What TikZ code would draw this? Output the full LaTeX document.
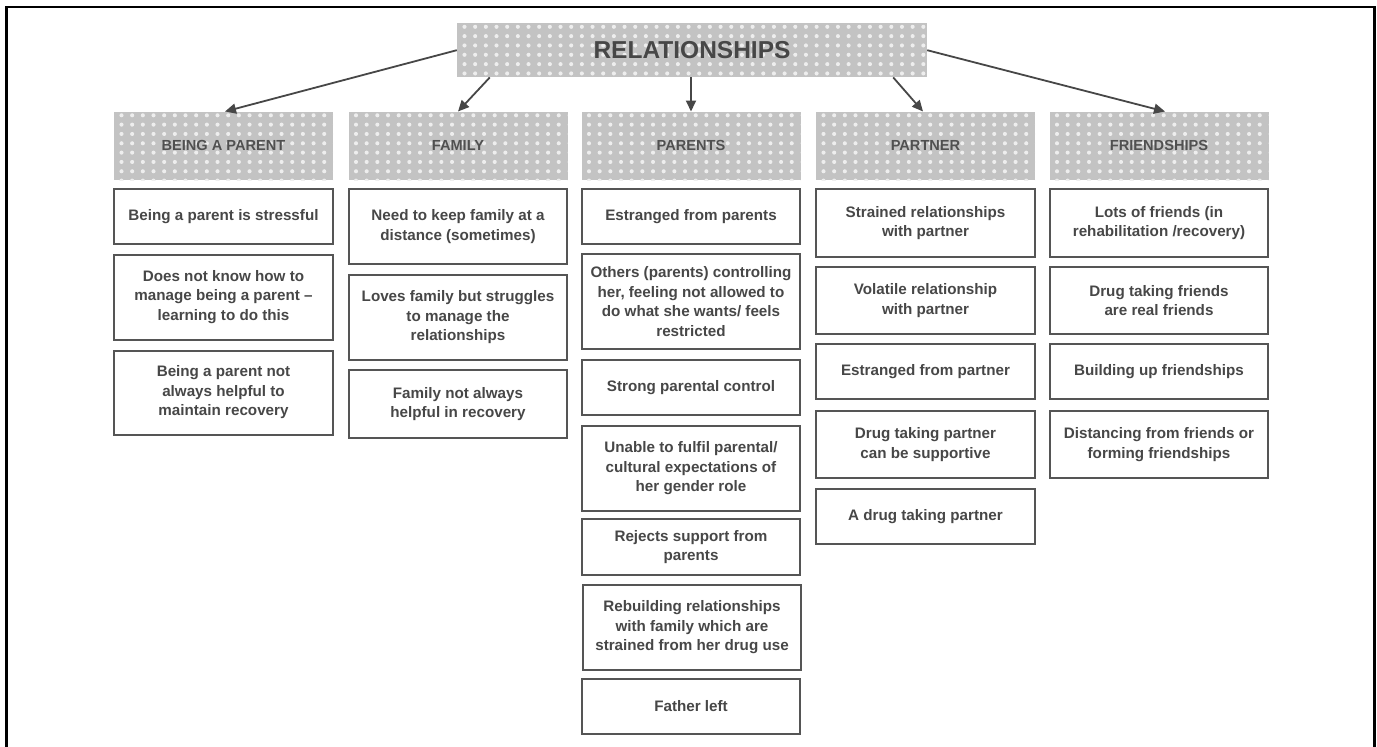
\documentclass[tikz,border=0pt]{standalone}
\usepackage{fontspec}
\setmainfont{Liberation Sans}
\usetikzlibrary{arrows.meta,calc}

\definecolor{ink}{HTML}{474747}
\definecolor{rim}{HTML}{555555}
\definecolor{hdrfill}{HTML}{C3C3C3}
\definecolor{hdrdot}{HTML}{EEEEEE}
\definecolor{hdrtext}{HTML}{505050}

\tikzset{
  dotfill/.style={
    fill=hdrfill,
    path picture={
      \foreach \i in {0,...,44} {
        \foreach \j in {0,...,7} {
          \fill[hdrdot] ([shift={(7.5+\i*10.67,3.6+\j*9.33)}]path picture bounding box.north west) circle (2.05pt);
        }
      }
    }
  },
  colhead/.style={dotfill, draw=none, anchor=north, minimum width=219pt,
    minimum height=68.5pt, inner sep=0pt, text=hdrtext,
    font=\fontsize{14.6}{16}\selectfont\bfseries},
  item/.style={draw=rim, line width=2pt, fill=white, anchor=north,
    minimum width=218pt, inner sep=0pt, align=center, text=ink,
    font=\fontsize{15.2}{19.5}\selectfont\bfseries},
  arr/.style={draw=ink, line width=1.8pt, -{Triangle[length=11pt,width=10pt]}}
}

\begin{document}
\begin{tikzpicture}[x=1pt,y=-1pt]
\useasboundingbox (0,0) rectangle (1377,747);

% outer frame, open at the bottom
\draw[line width=2.6pt, black] (6.3,760) -- (6.3,6.8) -- (1374.5,6.8) -- (1374.5,760);

% main heading
\node[dotfill, anchor=north, minimum width=470pt, minimum height=54pt, inner sep=0pt,
      text=ink, font=\fontsize{24.5}{28}\selectfont\bfseries] (top) at (692,23) {RELATIONSHIPS};

% column headings
\node[colhead] (h1) at (223.5,111.5) {BEING A PARENT};
\node[colhead] (h2) at (458,111.5) {FAMILY};
\node[colhead] (h3) at (691,111.5) {PARENTS};
\node[colhead] (h4) at (925.5,111.5) {PARTNER};
\node[colhead] (h5) at (1159,111.5) {FRIENDSHIPS};

% connectors from the main heading
\draw[arr] (top.west) -- ($(h1.north)+(1.5,0)$);
\draw[arr] ($(top.south west)+(33,0)$) -- (h2.north);
\draw[arr] (top.south -| h3.north) -- (h3.north);
\draw[arr] ($(top.south east)+(-34,0)$) -- ($(h4.north)+(-2.5,0)$);
\draw[arr] (top.east) -- ($(h5.north)+(6,0)$);

% being a parent
\node[item, minimum width=219pt, minimum height=55pt] (p1) at (223.5,188) {Being a parent is stressful};
\node[item, minimum width=219pt, minimum height=85pt] (p2) at (223.5,253.5) {Does not know how to\\manage being a parent –\\learning to do this};
\node[item, minimum width=219pt, minimum height=84pt] (p3) at (223.5,349.5) {Being a parent not\\always helpful to\\maintain recovery};

% family
\node[item, minimum height=75pt] (f1) at (458,188) {Need to keep family at a\\distance (sometimes)};
\node[item, minimum height=85pt] (f2) at (458,274) {Loves family but struggles\\to manage the\\relationships};
\node[item, minimum height=68pt] (f3) at (458,369) {Family not always\\helpful in recovery};

% parents
\node[item, minimum height=55pt] (r1) at (691,188) {Estranged from parents};
\node[item, minimum height=95pt] (r2) at (691,253) {Others (parents) controlling\\her, feeling not allowed to\\do what she wants/ feels\\restricted};
\node[item, minimum height=55pt] (r3) at (691,359) {Strong parental control};
\node[item, minimum height=85pt] (r4) at (691,425) {Unable to fulfil parental/\\cultural expectations of\\her gender role};
\node[item, minimum height=56pt] (r5) at (691,518) {Rejects support from\\parents};
\node[item, minimum height=85pt] (r6) at (692,584) {Rebuilding relationships\\with family which are\\strained from her drug use};
\node[item, minimum height=55pt] (r7) at (691,678) {Father left};

% partner
\node[item, minimum width=219pt, minimum height=68pt] (t1) at (925.5,188) {Strained relationships\\with partner};
\node[item, minimum width=219pt, minimum height=67pt] (t2) at (925.5,266) {Volatile relationship\\with partner};
\node[item, minimum width=219pt, minimum height=55pt] (t3) at (925.5,343) {Estranged from partner};
\node[item, minimum width=219pt, minimum height=67pt] (t4) at (925.5,410) {Drug taking partner\\can be supportive};
\node[item, minimum width=219pt, minimum height=55pt] (t5) at (925.5,488) {A drug taking partner};

% friendships
\node[item, minimum height=68pt] (s1) at (1159,188) {Lots of friends (in\\rehabilitation /recovery)};
\node[item, minimum height=67pt] (s2) at (1159,266) {Drug taking friends\\are real friends};
\node[item, minimum height=55pt] (s3) at (1159,343) {Building up friendships};
\node[item, minimum height=67pt] (s4) at (1159,410) {Distancing from friends or\\forming friendships};
\end{tikzpicture}
\end{document}
